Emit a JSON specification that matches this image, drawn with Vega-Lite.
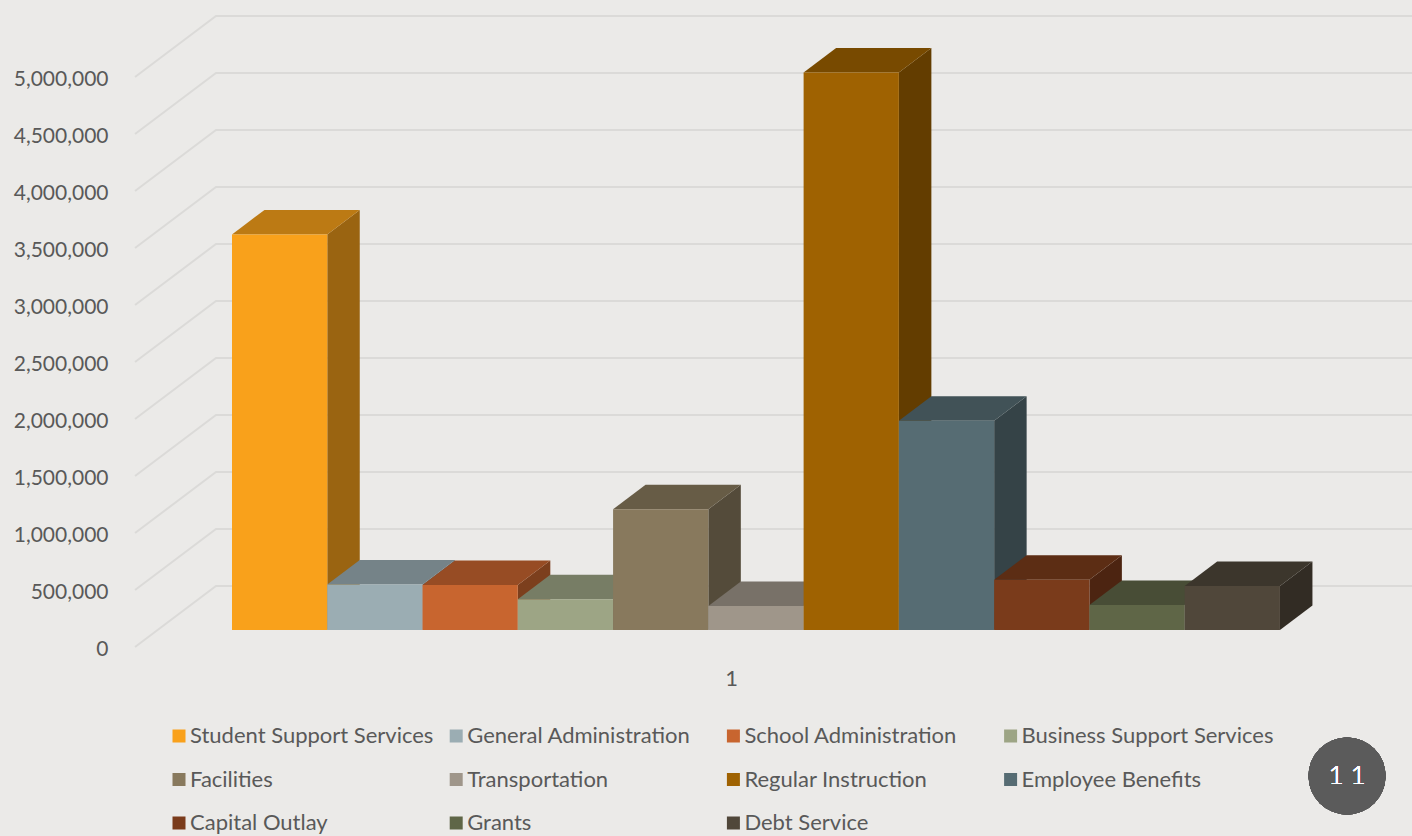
{
  "$schema": "https://vega.github.io/schema/vega-lite/v6.json",
  "width": 1412,
  "height": 836,
  "padding": 0,
  "autosize": {"type": "none"},
  "background": "#ebeae8",
  "view": {"stroke": null},
  "config": {
    "font": "Lato",
    "legend": {"gridAlign": "all"}
  },
  "datasets": {
    "spending": [
      {"category": "Student Support Services", "amount": 3470000},
      {"category": "General Administration", "amount": 400000},
      {"category": "School Administration", "amount": 395000},
      {"category": "Business Support Services", "amount": 270000},
      {"category": "Facilities", "amount": 1060000},
      {"category": "Transportation", "amount": 210000},
      {"category": "Regular Instruction", "amount": 4890000},
      {"category": "Employee Benefits", "amount": 1835000},
      {"category": "Capital Outlay", "amount": 440000},
      {"category": "Grants", "amount": 220000},
      {"category": "Debt Service", "amount": 386000}
    ],
    "gridTicks": [
      {"tick": 0}, {"tick": 500000}, {"tick": 1000000}, {"tick": 1500000},
      {"tick": 2000000}, {"tick": 2500000}, {"tick": 3000000}, {"tick": 3500000},
      {"tick": 4000000}, {"tick": 4500000}, {"tick": 5000000}
    ]
  },
  "data": {"name": "spending"},
  "transform": [
    {"window": [{"op": "row_number", "as": "rank"}]},
    {"calculate": "datum.rank - 1", "as": "left"},
    {"calculate": "datum.rank", "as": "right"},
    {"calculate": "149123", "as": "floor"},
    {"calculate": "datum.floor + datum.amount", "as": "top"}
  ],
  "layer": [
    {
      "data": {"name": "gridTicks"},
      "transform": [
        {"calculate": "[0, 1, 2]", "as": "vertex"},
        {"flatten": ["vertex"]},
        {"calculate": "datum.vertex === 0 ? -1.018 : datum.vertex === 1 ? -0.168 : 12.386", "as": "gx"},
        {"calculate": "datum.tick + (datum.vertex === 0 ? 0 : 535088)", "as": "gy"}
      ],
      "mark": {"type": "line", "stroke": "#dbdad8", "strokeWidth": 2, "interpolate": "linear"},
      "encoding": {
        "x": {
          "field": "gx", "type": "quantitative",
          "scale": {"domain": [-2.4352, 12.386], "nice": false, "zero": false},
          "axis": {
            "title": null, "values": [5.238], "labelExpr": "'1'", "offset": -168,
            "domain": false, "ticks": false, "grid": false,
            "labelFont": "Lato", "labelFontSize": 22, "labelColor": "#595959", "labelPadding": 0
          }
        },
        "y": {
          "field": "gy", "type": "quantitative",
          "scale": {"domain": [-1657895, 5675439], "nice": false, "zero": false},
          "axis": {
            "title": null, "values": [0, 500000, 1000000, 1500000, 2000000, 2500000, 3000000, 3500000, 4000000, 4500000, 5000000],
            "labelExpr": "format(datum.value, ',')", "offset": -120, "labelOffset": 2,
            "domain": false, "ticks": false, "grid": false,
            "labelFont": "Lato", "labelFontSize": 21, "labelColor": "#595959", "labelPadding": 12
          }
        },
        "detail": {"field": "tick"},
        "order": {"field": "vertex"}
      }
    },
    {
      "transform": [
        {"calculate": "[0, 1]", "as": "vertex"},
        {"flatten": ["vertex"]},
        {"calculate": "datum.right + datum.vertex * 0.341", "as": "sx"},
        {"calculate": "datum.floor + datum.vertex * 214900", "as": "sLow"},
        {"calculate": "datum.top + datum.vertex * 214900", "as": "sHigh"}
      ],
      "mark": {"type": "area", "interpolate": "linear", "orient": "vertical"},
      "encoding": {
        "x": {"field": "sx", "type": "quantitative", "axis": {"title": null}},
        "y": {"field": "sLow", "type": "quantitative", "stack": null, "axis": {"title": null}},
        "y2": {"field": "sHigh"},
        "color": {
          "field": "category", "type": "nominal", "legend": null,
          "scale": {
            "domain": ["Student Support Services", "General Administration", "School Administration", "Business Support Services", "Facilities", "Transportation", "Regular Instruction", "Employee Benefits", "Capital Outlay", "Grants", "Debt Service"],
            "range": ["#9a6411", "#606b6f", "#7c3f1d", "#616652", "#544b3a", "#625d56", "#633d00", "#354347", "#4c2411", "#3b3f2c", "#322c24"]
          }
        }
      }
    },
    {
      "transform": [
        {"calculate": "[0, 1, 2, 3]", "as": "vertex"},
        {"flatten": ["vertex"]},
        {"calculate": "datum.vertex === 0 ? datum.left : datum.vertex === 1 ? datum.left + 0.341 : datum.vertex === 2 ? datum.right : datum.right + 0.341", "as": "tx"},
        {"calculate": "datum.vertex === 3 ? datum.top + 214900 : datum.top", "as": "tLow"},
        {"calculate": "datum.vertex === 0 ? datum.top : datum.top + 214900", "as": "tHigh"}
      ],
      "mark": {"type": "area", "interpolate": "linear", "orient": "vertical"},
      "encoding": {
        "x": {"field": "tx", "type": "quantitative", "axis": {"title": null}},
        "y": {"field": "tLow", "type": "quantitative", "stack": null, "axis": {"title": null}},
        "y2": {"field": "tHigh"},
        "color": {
          "field": "category", "type": "nominal", "legend": null,
          "scale": {
            "domain": ["Student Support Services", "General Administration", "School Administration", "Business Support Services", "Facilities", "Transportation", "Regular Instruction", "Employee Benefits", "Capital Outlay", "Grants", "Debt Service"],
            "range": ["#bc7a14", "#758388", "#974c24", "#777d65", "#675c46", "#787168", "#784a00", "#415257", "#5c2d14", "#484d36", "#3c362c"]
          }
        }
      }
    },
    {
      "mark": {"type": "rect"},
      "encoding": {
        "x": {"field": "left", "type": "quantitative", "axis": {"title": null}},
        "x2": {"field": "right"},
        "y": {"field": "floor", "type": "quantitative", "axis": {"title": null}},
        "y2": {"field": "top"},
        "color": {
          "field": "category", "type": "nominal",
          "scale": {
            "domain": ["Student Support Services", "General Administration", "School Administration", "Business Support Services", "Facilities", "Transportation", "Regular Instruction", "Employee Benefits", "Capital Outlay", "Grants", "Debt Service"],
            "range": ["#f9a11b", "#9badb3", "#c8652f", "#9da585", "#88795d", "#9f968a", "#9f6201", "#566c73", "#7a3b1b", "#5f6647", "#50473a"]
          },
          "legend": {
            "title": null, "orient": "none", "legendX": 168, "legendY": 725,
            "direction": "horizontal", "columns": 4, "symbolType": "square", "symbolSize": 169,
            "symbolStrokeWidth": 0, "labelFont": "Lato", "labelFontSize": 22,
            "labelColor": "#595959", "labelLimit": 300, "rowPadding": 21.5,
            "columnPadding": 3.2, "labelOffset": 0, "padding": 0
          }
        }
      }
    },
    {
      "mark": {"type": "point", "filled": true, "shape": "circle", "size": 5929, "color": "#5b5b5b", "opacity": 1},
      "encoding": {
        "x": {"datum": 11.704, "type": "quantitative", "axis": {"title": null}},
        "y": {"datum": -1131579, "type": "quantitative", "axis": {"title": null}}
      }
    },
    {
      "mark": {"type": "text", "color": "#ffffff", "fontSize": 26, "fontWeight": 300, "font": "Lato", "align": "center", "baseline": "middle"},
      "encoding": {
        "x": {"datum": 11.704, "type": "quantitative", "axis": {"title": null}},
        "y": {"datum": -1131579, "type": "quantitative", "axis": {"title": null}},
        "text": {"value": "1 1"}
      }
    }
  ],
  "resolve": {"scale": {"color": "independent"}}
}
